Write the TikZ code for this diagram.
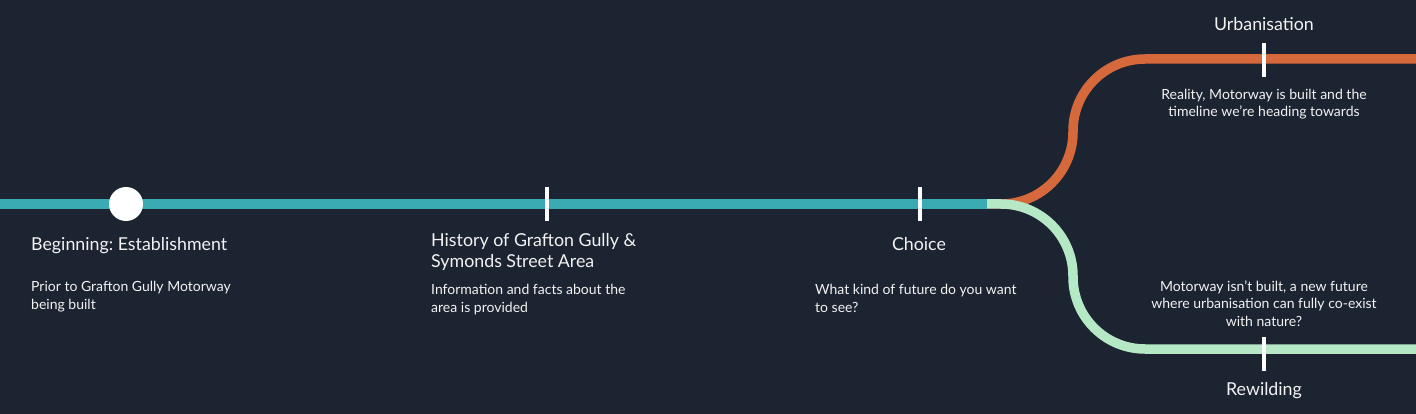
\documentclass[tikz,border=0pt]{standalone}
\usepackage{fontspec}
\setmainfont{Lato}
\frenchspacing
\definecolor{bgc}{HTML}{1C2431}
\definecolor{tealc}{HTML}{3AABB3}
\definecolor{orangec}{HTML}{D6693C}
\definecolor{greenc}{HTML}{B5E9C5}
\definecolor{txtc}{HTML}{F2F2F2}
\begin{document}
\begin{tikzpicture}[x=1pt,y=-1pt,
  title/.style={text=txtc,inner sep=0pt,font=\fontsize{17.8}{21}\selectfont},
  body/.style={text=txtc,inner sep=0pt,font=\fontsize{14}{17.3}\selectfont},
  tick/.style={draw=white,line width=4pt},
  track/.style={line width=10pt},
  branch/.style={line width=9.5pt,rounded corners=72pt}]
\fill[bgc] (0,0) rectangle (1416,414);
\useasboundingbox (0,0) rectangle (1416,414);
% coordinates
\coordinate (start) at (0,204);
\coordinate (split) at (987,204);
\coordinate (ubend) at (1073,204);
\coordinate (utop) at (1073,59);
\coordinate (uend) at (1416,59);
\coordinate (rbend) at (1073,204);
\coordinate (rbot) at (1073,349);
\coordinate (rend) at (1416,349);
% branches
\draw[branch,orangec] (split) -- (ubend) -- (utop) -- (uend);
\draw[branch,greenc] (split) -- (rbend) -- (rbot) -- (rend);
\draw[track,tealc] (start) -- (split);
% markers
\node[circle,fill=white,minimum size=34pt,inner sep=0pt] (begin) at (126,204) {};
\coordinate (h1) at (547,187); \coordinate (h2) at (547,221);
\draw[tick] (h1) -- (h2);
\coordinate (c1) at (920,187); \coordinate (c2) at (920,221);
\draw[tick] (c1) -- (c2);
\coordinate (u1) at (1264,43); \coordinate (u2) at (1264,77);
\draw[tick] (u1) -- (u2);
\coordinate (r1) at (1264,337); \coordinate (r2) at (1264,371);
\draw[tick] (r1) -- (r2);
% texts (base anchor = baseline of last line)
\node[title,anchor=base west] (t1) at (31,251) {Beginning: Establishment};
\node[body,anchor=base west,align=left] (b1) at (31,309) {Prior to Grafton Gully Motorway\\being built};
\node[title,anchor=base west,align=left] (t2) at (431,267) {History of Grafton Gully \&\\Symonds Street Area};
\node[body,anchor=base west,align=left] (b2) at (431,312) {Information and facts about the\\area is provided};
\node[title,anchor=base] (t3) at (919,251) {Choice};
\node[body,anchor=base west,align=left] (b3) at (815,312) {What kind of future do you want\\to see?};
\node[title,anchor=base] (t4) at (1264,31) {Urbanisation};
\node[body,anchor=base,align=center] (b4) at (1264,117) {Reality, Motorway is built and the\\timeline we’re heading towards};
\node[body,anchor=base,align=center] (b5) at (1264,326) {Motorway isn’t built, a new future\\where urbanisation can fully co-exist\\with nature?};
\node[title,anchor=base] (t5) at (1264,395) {Rewilding};
\end{tikzpicture}
\end{document}
